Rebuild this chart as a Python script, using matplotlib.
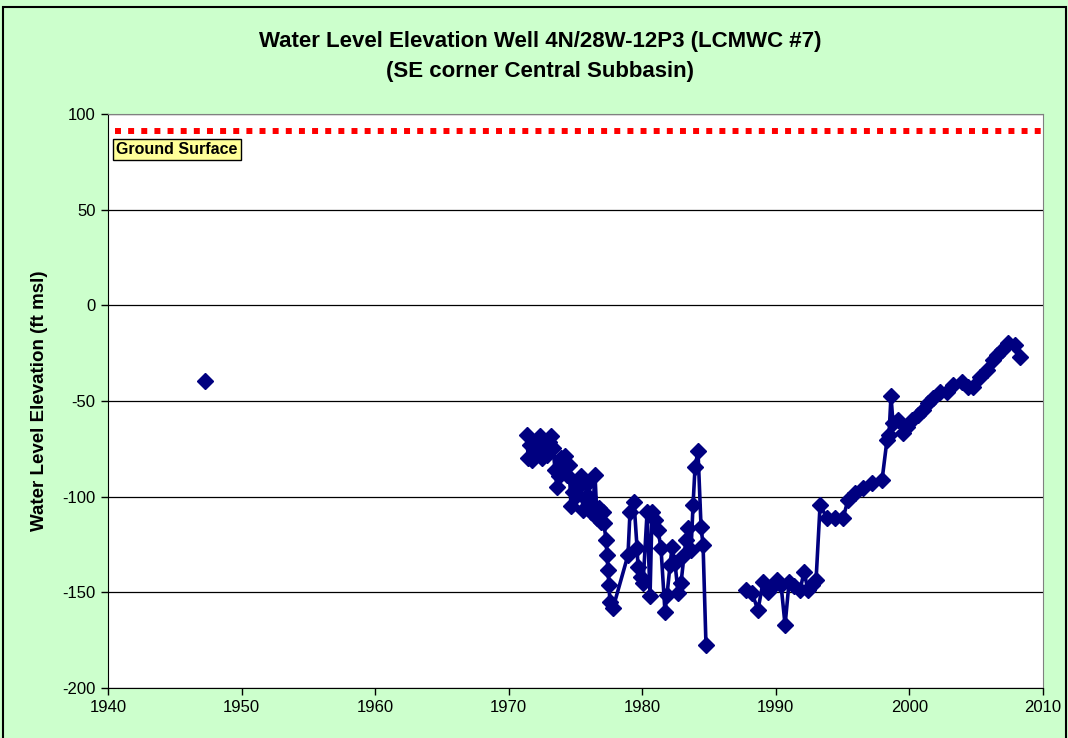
import numpy as np
import matplotlib
matplotlib.use("Agg")
import matplotlib.pyplot as plt
from matplotlib.patches import Rectangle

plt.rcParams['font.family'] = ['Liberation Sans', 'DejaVu Sans']
plt.rcParams['axes.unicode_minus'] = False

# water level readings (decimal year, ft msl); NaN breaks the line
years = [1947.26, np.nan,
         1971.37, 1971.45, 1971.60, 1971.75, 1971.97, 1972.19, 1972.34, 1972.49,
         1972.64, 1972.87, 1973.02, 1973.17, 1973.32, 1973.47, 1973.62, 1973.77,
         1973.92, 1974.07, 1974.22, 1974.37, 1974.52, 1974.66, 1974.81, 1974.96,
         1975.11, 1975.26, 1975.41, 1975.56, 1975.71, 1975.86, 1976.01, 1976.16,
         1976.31, 1976.46, 1976.61, 1976.76, 1976.91, 1977.06, 1977.13, 1977.28,
         1977.36, 1977.43, 1977.50, 1977.58, 1977.81, 1978.93, 1979.08, 1979.38,
         1979.61, 1979.68, 1979.91, 1980.06, 1980.36, 1980.58, 1980.73, 1980.95,
         1981.18, 1981.40, 1981.70, 1981.85, 1982.08, 1982.23, 1982.45, 1982.68,
         1982.90, 1983.13, 1983.28, 1983.43, 1983.65, 1983.80, 1983.95, 1984.17,
         1984.40, 1984.55, 1984.77, np.nan,
         1987.77, 1988.22, 1988.66, 1989.04, 1989.41, 1989.71, 1990.09, 1990.39,
         1990.69, 1990.99, 1991.36, 1991.81, 1992.11, 1992.41, 1992.71, 1993.01,
         1993.31, 1993.83, 1994.43, 1995.03, 1995.40, 1995.93, 1996.53, 1997.20,
         1997.95, 1998.32, 1998.47, 1998.62, 1998.77, 1999.15, 1999.52, 1999.82,
         2000.20, 2000.64, 2001.02, 2001.39, 2001.77, 2002.29, 2002.82, 2003.27,
         2003.94, 2004.39, 2004.76, 2005.29, 2005.81, 2006.26, 2006.56, 2006.93,
         2007.38, 2007.91, 2008.28]
levels = [-39.6, np.nan,
          -67.8, -79.8, -73.0, -80.9, -76.7, -70.4, -68.3, -79.8,
          -74.6, -78.2, -71.4, -68.3, -74.6, -86.1, -95.0, -89.2,
          -79.8, -81.9, -78.8, -88.7, -83.5, -104.9, -97.6, -92.4,
          -99.1, -94.4, -89.2, -107.0, -100.7, -93.4, -100.2, -108.0,
          -104.4, -88.7, -111.2, -105.9, -113.3, -108.0, -113.8, -122.7,
          -130.5, -138.4, -146.2, -155.1, -158.2, -130.5, -108.0, -102.8,
          -126.9, -136.8, -142.0, -145.1, -108.0, -151.9, -108.0, -112.2,
          -117.4, -126.9, -160.3, -151.4, -135.7, -126.3, -134.7, -150.4,
          -145.1, -130.5, -122.7, -116.4, -127.9, -104.4, -84.5, -76.2,
          -115.9, -125.3, -177.6, np.nan,
          -148.8, -150.4, -159.3, -144.6, -149.9, -147.2, -143.6, -146.2,
          -167.1, -144.6, -146.7, -148.8, -139.4, -148.8, -146.2, -143.6,
          -104.4, -111.2, -111.2, -111.2, -101.8, -98.1, -95.5, -92.9,
          -91.3, -70.4, -67.8, -47.4, -61.5, -59.9, -66.7, -63.6,
          -59.9, -57.3, -54.7, -51.1, -48.4, -45.3, -45.3, -41.7,
          -40.1, -42.7, -42.7, -37.5, -33.8, -28.6, -26.0, -23.4,
          -19.7, -20.7, -27.0]

ground_years = [1940.5, 2010]
ground_level = [91, 91]

green = '#CCFFCC'

fig = plt.figure(figsize=(10.68, 7.38), dpi=100, facecolor=green)
ax = fig.add_axes([108/1068, 1 - 688/738, 935/1068, 574/738])
ax.set_facecolor('white')

# ground surface
ax.plot(ground_years, ground_level, color='#FF0000', lw=4.3,
        linestyle=(0, (1, 1.2)), solid_capstyle='butt', dash_capstyle='butt')
ax.text(1940.62, 81.3, 'Ground Surface', fontsize=11.5, fontweight='bold',
        ha='left', va='center',
        bbox=dict(boxstyle='square,pad=0.2', fc='#FFFF99', ec='black', lw=1))

ax.plot(years, levels, color='#000080', lw=2.6, marker='D', markersize=8,
        zorder=3)

ax.set_xlim(1940, 2010)
ax.set_ylim(-200, 100)
ax.set_xticks(np.arange(1940, 2011, 10))
ax.set_yticks(np.arange(-200, 101, 50))
ax.yaxis.grid(True, color='black', lw=0.9)
ax.set_axisbelow(True)
ax.tick_params(labelsize=12, direction='out', length=5, width=1, pad=4)
for s in ['top', 'right']:
    ax.spines[s].set_color('#808080')
for s in ['left', 'bottom']:
    ax.spines[s].set_color('black')

ax.set_ylabel('Water Level Elevation (ft msl)', fontsize=13.5, fontweight='bold',
              labelpad=10)

fig.text(0.506, 1 - 42/738, 'Water Level Elevation Well 4N/28W-12P3 (LCMWC #7)',
         ha='center', va='center', fontsize=16, fontweight='bold')
fig.text(0.506, 1 - 71/738, '(SE corner Central Subbasin)',
         ha='center', va='center', fontsize=16, fontweight='bold')

# outer border of the chart area
fig.patches.append(Rectangle((3/1068, -0.01), 1063/1068, 1 - 7/738 + 0.01,
                             transform=fig.transFigure, fill=False,
                             ec='black', lw=1.5))

fig.savefig('out.png', dpi=100, facecolor=green)
